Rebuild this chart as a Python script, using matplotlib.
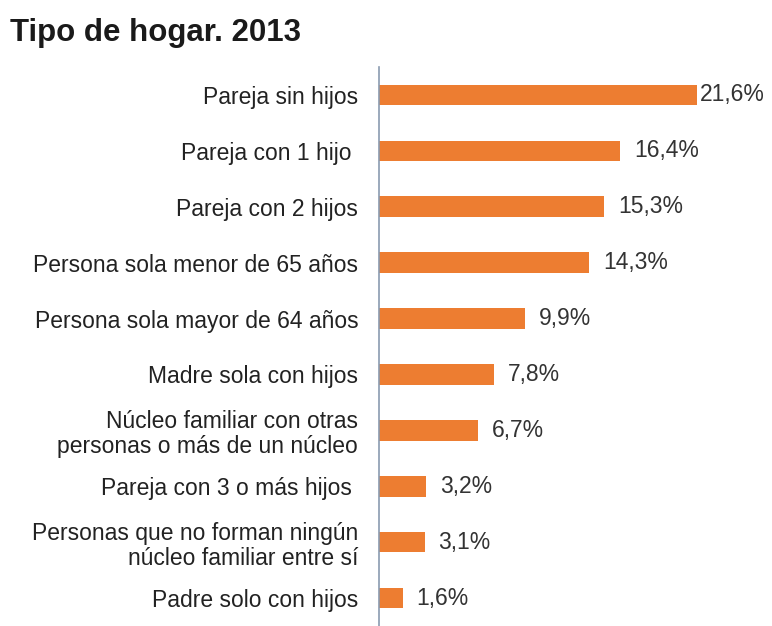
import matplotlib.pyplot as plt

plt.rcParams['font.family'] = ['Liberation Sans', 'DejaVu Sans']

# DATA
categorias = ["Pareja sin hijos",
              "Pareja con 1 hijo ",
              "Pareja con 2 hijos",
              "Persona sola menor de 65 años",
              "Persona sola mayor de 64 años",
              "Madre sola con hijos",
              "Núcleo familiar con otras\npersonas o más de un núcleo",
              "Pareja con 3 o más hijos ",
              "Personas que no forman ningún\nnúcleo familiar entre sí",
              "Padre solo con hijos"]
valores = [21.6, 16.4, 15.3, 14.3, 9.9, 7.8, 6.7, 3.2, 3.1, 1.6]
etiquetas = ["21,6%", "16,4%", "15,3%", "14,3%", "9,9%", "7,8%", "6,7%", "3,2%", "3,1%", "1,6%"]

fig = plt.figure(figsize=(7.72, 6.26), dpi=100)
ax = fig.add_axes([379 / 772, 0.0, 381 / 772, 559 / 626])

pos = list(range(len(categorias)))
ax.barh(pos, valores, height=0.37, color='#ED7D31')
ax.set_ylim(9.5, -0.5)
ax.set_xlim(0, 25.9)

for i, (v, t) in enumerate(zip(valores, etiquetas)):
    off = 2 if i == 0 else 10
    ax.annotate(t, (v, i), xytext=(off, 0), textcoords='offset points',
                va='center', ha='left', fontsize=16.5, color='#333333')

ax.set_yticks(pos)
ax.set_yticklabels(categorias, fontsize=16.5, color='#222222', linespacing=1.12)
ax.tick_params(axis='y', length=0, pad=15)
ax.set_xticks([])
for s in ['top', 'right', 'bottom']:
    ax.spines[s].set_visible(False)
ax.spines['left'].set_color('#8a9bb0')
ax.spines['left'].set_linewidth(1.2)

fig.text(10 / 772, 1 - 33 / 626, "Tipo de hogar. 2013", fontsize=22.5, fontweight='bold',
         color='#1a1a1a', va='center', ha='left')

fig.savefig('out.png', dpi=100)
